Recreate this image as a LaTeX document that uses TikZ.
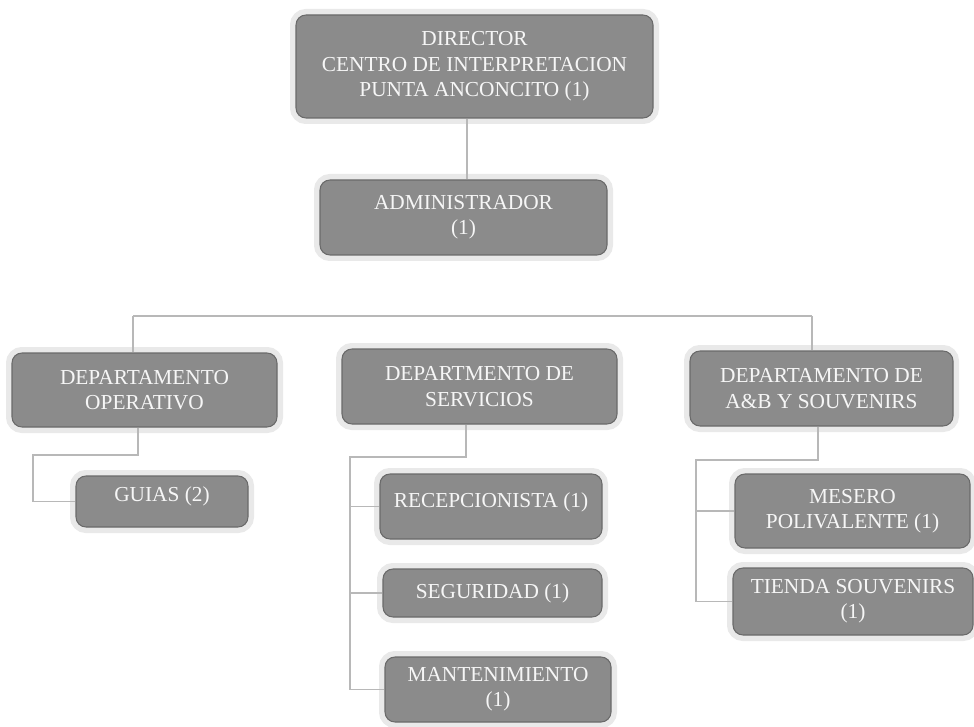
\documentclass[tikz,border=0pt]{standalone}
\usepackage{fontspec}
\setmainfont{Liberation Serif}
\usetikzlibrary{calc}
\definecolor{boxfill}{HTML}{8B8B8B}
\definecolor{boxline}{HTML}{6A6A6A}
\definecolor{halo}{HTML}{E9E9E9}
\definecolor{wire}{HTML}{B8B8B8}
\definecolor{label}{HTML}{F6F6F6}
\begin{document}
\begin{tikzpicture}[x=0.75pt,y=-0.75pt,
  unit/.style={rectangle, rounded corners=7.5pt, fill=boxfill, draw=boxline,
    line width=0.8pt, text=label, align=center, inner sep=2pt,
    font=\fontsize{16}{19}\selectfont,
    preaction={draw=halo, line width=9pt, fill=halo}},
  conn/.style={draw=wire, line width=0.9pt}]
\useasboundingbox (0,0) rectangle (974,727);
\fill[white] (0,0) rectangle (974,727);

% top of the chart
\node[unit, minimum width=267.75pt, minimum height=77.25pt] (dir) at (474.5,66.5)
  {DIRECTOR\\CENTRO DE INTERPRETACION\\PUNTA ANCONCITO (1)};
\node[unit, minimum width=215.25pt, minimum height=56.25pt] (adm) at (463.5,217.5)
  {ADMINISTRADOR\\(1)};

% departments
\node[unit, minimum width=198.75pt, minimum height=55.5pt] (op) at (144.5,390)
  {DEPARTAMENTO\\OPERATIVO};
\node[unit, minimum width=206.25pt, minimum height=56.25pt] (serv) at (479.5,386.5)
  {DEPARTMENTO DE\\SERVICIOS};
\node[unit, minimum width=197.25pt, minimum height=56.25pt] (ab) at (821.5,388.5)
  {DEPARTAMENTO DE\\A\&B Y SOUVENIRS};

% staff
\node[unit, minimum width=129pt, minimum height=38.25pt, text depth=11pt] (guias) at (162,501.5)
  {GUIAS (2)};
\node[unit, minimum width=166.5pt, minimum height=48.75pt, text depth=10pt] (rec) at (491,506.5)
  {RECEPCIONISTA (1)};
\node[unit, minimum width=164.25pt, minimum height=36pt] (seg) at (492.5,593)
  {SEGURIDAD (1)};
\node[unit, minimum width=169.5pt, minimum height=48.75pt] (man) at (498,689.5)
  {MANTENIMIENTO\\(1)};
\node[unit, minimum width=176.25pt, minimum height=55.5pt] (mes) at (852.5,511)
  {MESERO\\POLIVALENTE (1)};
\node[unit, minimum width=180pt, minimum height=50.25pt] (tie) at (853,601.5)
  {TIENDA SOUVENIRS\\(1)};

% junction points
\coordinate (busL) at (133,316);
\coordinate (busR) at (812,316);
\coordinate (opK) at (33,455);
\coordinate (servK) at (350,457);
\coordinate (abK) at (696,460);

% director to administrator
\draw[conn] ($(dir.south)+(-7.5,0)$) -- ($(adm.north)+(3.5,0)$);
% administrator to the department bus
\draw[conn] ($(adm.south)+(0.5,0)$) -- ($(adm.south)+(0.5,0)$ |- busL);
\draw[conn] (busL) -- (busR);
\draw[conn] (busL) -- (busL |- op.north);
\draw[conn] ($(serv.north)+(-14.5,0)$ |- busL) -- ($(serv.north)+(-14.5,0)$);
\draw[conn] (busR) -- (busR |- ab.north);

% operations department
\draw[conn] ($(op.south)+(-6.5,0)$) |- (opK) |- (guias.west);
% services department
\draw[conn] ($(serv.south)+(-13.5,0)$) |- (servK) |- (man.west);
\draw[conn] (servK |- rec.west) -- (rec.west);
\draw[conn] (servK |- seg.west) -- (seg.west);
% food, beverage and souvenirs department
\draw[conn] ($(ab.south)+(-3.5,0)$) |- (abK) |- (tie.west);
\draw[conn] (abK |- mes.west) -- (mes.west);
\end{tikzpicture}
\end{document}
